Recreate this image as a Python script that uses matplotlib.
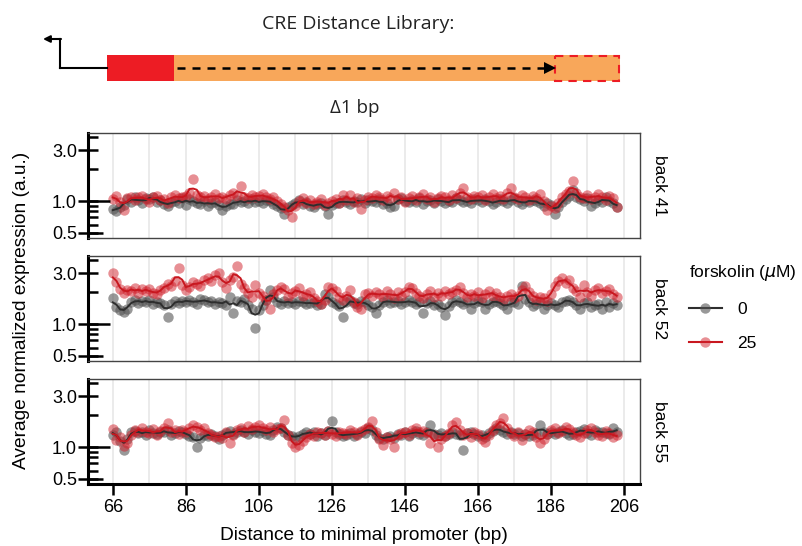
import numpy as np
import pandas as pd
import matplotlib
matplotlib.use("Agg")
import matplotlib.pyplot as plt
import matplotlib.transforms as mtransforms
from matplotlib.patches import Rectangle
from matplotlib.lines import Line2D
from matplotlib.ticker import NullFormatter

plt.rcParams['font.family'] = ['Liberation Sans', 'DejaVu Sans']

# positions along the library (bp)
bp = np.arange(66, 205)

# back 41
g41 = [0.84, 0.80, 0.88, 0.92, 1.05, 0.98, 1.08, 1.02, 0.96, 1.06,
       1.04, 1.10, 0.98, 1.02, 0.94, 0.90, 0.97, 1.00, 0.95, 1.06,
       0.92, 1.04, 0.99, 0.96, 0.93, 1.01, 0.90, 0.95, 0.98, 0.92,
       0.82, 0.90, 0.94, 0.93, 1.02, 0.97, 1.00, 0.95, 1.04, 0.98,
       1.00, 0.96, 1.03, 0.99, 0.94, 0.90, 0.86, 0.75, 0.88, 0.92,
       0.96, 1.02, 0.94, 0.97, 0.90, 0.88, 0.93, 0.96, 0.90, 0.76,
       0.92, 0.96, 0.95, 1.02, 0.98, 0.94, 1.00, 0.97, 1.04, 0.95,
       1.02, 0.99, 0.97, 1.05, 0.93, 0.96, 0.88, 0.90, 1.04, 1.06,
       1.00, 0.97, 1.03, 0.98, 1.06, 0.94, 0.99, 1.02, 0.96, 1.05,
       1.00, 0.95, 1.01, 0.97, 1.06, 1.02, 0.98, 1.00, 0.96, 1.04,
       1.02, 0.97, 1.05, 0.99, 0.93, 0.98, 1.04, 1.00, 0.96, 1.02,
       1.06, 0.98, 0.93, 1.01, 0.97, 1.03, 0.99, 0.95, 0.90, 0.96,
       0.92, 0.76, 0.88, 0.98, 1.05, 1.12, 1.27, 1.10, 1.04, 0.99,
       1.06, 0.90, 0.95, 1.02, 0.97, 1.08, 1.00, 0.95, 0.88]
r41 = [1.04, 1.12, 0.98, 0.82, 1.06, 1.10, 1.02, 1.08, 1.12, 1.04,
       0.98, 1.08, 1.12, 1.02, 1.05, 0.96, 1.10, 1.14, 1.06, 1.08,
       1.12, 1.18, 1.60, 1.15, 1.08, 1.12, 1.05, 1.10, 1.16, 1.06,
       1.10, 1.04, 1.14, 1.20, 1.12, 1.39, 1.10, 1.06, 1.14, 1.08,
       1.12, 1.16, 1.10, 1.04, 1.08, 1.00, 0.94, 0.88, 0.82, 0.70,
       0.90, 1.00, 1.06, 0.96, 1.02, 0.94, 0.98, 1.04, 0.92, 0.96,
       1.00, 1.04, 0.96, 1.14, 1.02, 1.14, 0.98, 1.06, 0.85, 1.02,
       1.10, 1.06, 1.14, 1.08, 1.02, 1.12, 1.06, 1.18, 1.04, 1.10,
       0.98, 1.06, 1.12, 1.02, 1.08, 1.16, 1.04, 1.10, 0.97, 1.06,
       1.12, 1.08, 1.02, 1.14, 1.06, 1.20, 1.32, 1.10, 1.04, 1.12,
       1.08, 1.14, 1.02, 1.10, 1.16, 1.06, 1.12, 1.04, 1.18, 1.32,
       1.10, 1.04, 1.14, 1.08, 1.02, 1.12, 1.06, 1.16, 1.00, 0.83,
       0.90, 0.86, 0.96, 1.10, 1.16, 1.24, 1.54, 1.20, 1.10, 1.06,
       1.14, 1.04, 1.10, 1.16, 1.08, 1.02, 1.12, 1.06, 0.87]

# back 52
g52 = [1.75, 1.45, 1.36, 1.31, 1.40, 1.62, 1.70, 1.58, 1.66, 1.60,
       1.68, 1.55, 1.62, 1.58, 1.50, 1.17, 1.56, 1.64, 1.58, 1.66,
       1.60, 1.70, 1.62, 1.55, 1.72, 1.68, 1.60, 1.64, 1.56, 1.62,
       1.58, 1.52, 1.80, 1.26, 1.66, 1.60, 1.72, 1.50, 1.40, 0.91,
       1.36, 1.52, 1.70, 2.09, 1.78, 1.62, 1.55, 1.66, 1.58, 1.62,
       1.56, 1.64, 1.60, 1.54, 1.58, 1.62, 1.50, 1.56, 1.90, 1.80,
       1.60, 1.55, 1.48, 1.17, 1.62, 1.70, 1.58, 1.55, 1.64, 1.60,
       1.50, 1.45, 1.26, 1.50, 1.62, 1.70, 1.58, 1.60, 1.66, 1.55,
       1.60, 1.68, 1.62, 1.54, 1.60, 1.26, 1.58, 1.64, 1.50, 1.56,
       1.44, 1.22, 1.48, 1.62, 1.70, 1.60, 1.56, 1.62, 1.40, 1.58,
       1.64, 1.60, 1.38, 1.56, 1.62, 1.66, 1.58, 1.52, 1.40, 1.60,
       1.62, 1.55, 2.30, 1.74, 1.60, 1.48, 1.56, 1.62, 1.40, 1.52,
       1.58, 1.50, 1.44, 1.62, 1.66, 1.70, 1.60, 1.52, 1.40, 1.58,
       1.62, 1.44, 1.50, 1.56, 1.40, 1.60, 1.46, 1.58, 1.50]
r52 = [3.00, 2.50, 2.15, 1.95, 2.10, 2.05, 2.20, 1.98, 2.12, 2.04,
       2.15, 1.95, 1.90, 2.10, 2.20, 2.40, 2.30, 2.55, 3.40, 2.35,
       2.10, 2.25, 2.50, 2.40, 2.30, 2.60, 2.70, 2.55, 2.90, 3.00,
       2.50, 2.20, 2.60, 2.75, 3.50, 2.40, 2.20, 1.95, 1.80, 2.33,
       1.95, 1.85, 1.70, 1.40, 1.90, 2.10, 2.25, 2.15, 1.80, 1.95,
       2.05, 2.20, 1.85, 1.90, 2.00, 1.75, 1.65, 1.55, 1.70, 2.25,
       2.20, 2.05, 1.80, 1.70, 1.85, 2.10, 1.60, 1.45, 1.40, 1.90,
       1.95, 1.85, 2.00, 1.90, 1.80, 2.05, 1.90, 1.75, 2.00, 1.85,
       2.00, 2.25, 2.20, 1.95, 1.85, 1.75, 1.90, 2.05, 1.80, 1.95,
       1.85, 2.05, 1.90, 2.00, 2.10, 2.25, 1.95, 1.80, 1.90, 1.85,
       2.00, 1.75, 1.90, 2.05, 1.85, 1.95, 1.80, 1.70, 1.85, 1.90,
       1.75, 1.85, 2.10, 2.30, 2.00, 1.85, 1.70, 1.80, 1.75, 1.65,
       1.90, 2.30, 2.55, 2.70, 2.45, 2.60, 2.20, 2.05, 1.80, 2.35,
       2.00, 1.85, 2.10, 2.20, 1.95, 2.05, 2.15, 1.90, 1.80]

# back 55
g55 = [1.30, 1.40, 1.15, 0.94, 1.20, 1.38, 1.42, 1.35, 1.40, 1.30,
       1.45, 1.36, 1.32, 1.40, 1.38, 1.44, 1.30, 1.35, 1.42, 1.38,
       1.34, 1.28, 1.25, 1.00, 1.22, 1.30, 1.26, 1.34, 1.28, 1.20,
       1.30, 1.36, 1.42, 1.34, 1.40, 1.45, 1.38, 1.32, 1.44, 1.40,
       1.36, 1.42, 1.34, 1.30, 1.46, 1.55, 1.50, 1.38, 1.30, 1.26,
       1.22, 1.28, 1.32, 1.38, 1.34, 1.40, 1.28, 1.36, 1.30, 1.42,
       1.75, 1.38, 1.32, 1.26, 1.30, 1.36, 1.28, 1.34, 1.40, 1.36,
       1.52, 1.45, 1.30, 1.22, 1.18, 1.24, 1.28, 1.22, 1.34, 1.30,
       1.38, 1.28, 1.36, 1.42, 1.34, 1.30, 1.38, 1.62, 1.34, 1.30,
       1.36, 1.28, 1.32, 1.38, 1.34, 1.30, 0.94, 1.36, 1.40, 1.32,
       1.26, 1.30, 1.24, 1.36, 1.42, 1.50, 1.46, 1.40, 1.34, 1.38,
       1.32, 1.36, 1.28, 1.34, 1.26, 1.30, 1.36, 1.62, 1.40, 1.34,
       1.38, 1.32, 1.40, 1.44, 1.36, 1.30, 1.34, 1.38, 1.42, 1.48,
       1.36, 1.30, 1.44, 1.38, 1.40, 1.36, 1.32, 1.50, 1.38]
r55 = [1.48, 1.17, 1.25, 1.03, 1.10, 1.30, 1.45, 1.38, 1.52, 1.40,
       1.36, 1.48, 1.30, 1.42, 1.50, 1.68, 1.38, 1.44, 1.32, 1.46,
       1.40, 1.50, 1.62, 1.55, 1.44, 1.52, 1.36, 1.30, 1.24, 1.28,
       1.22, 1.38, 1.08, 1.30, 1.46, 1.52, 1.40, 1.58, 1.48, 1.55,
       1.62, 1.50, 1.44, 1.56, 1.40, 1.48, 1.52, 1.81, 1.30, 1.10,
       1.00, 1.05, 1.15, 1.25, 1.34, 1.28, 1.40, 1.36, 1.30, 1.42,
       1.34, 1.28, 1.40, 1.36, 1.32, 1.44, 1.38, 1.30, 1.42, 1.48,
       1.55, 1.75, 1.40, 1.20, 1.05, 1.25, 1.18, 1.00, 1.30, 1.36,
       1.40, 1.30, 1.44, 1.50, 1.38, 1.42, 1.36, 1.10, 1.30, 1.00,
       1.20, 1.28, 1.36, 1.60, 1.71, 1.44, 1.30, 1.36, 1.24, 1.40,
       1.34, 1.20, 1.12, 1.30, 1.45, 1.60, 1.70, 1.88, 1.50, 1.36,
       1.28, 1.40, 1.16, 1.32, 1.46, 1.38, 1.25, 1.10, 1.20, 1.34,
       1.44, 1.50, 1.36, 1.42, 1.55, 1.48, 1.38, 1.30, 1.24, 1.36,
       1.46, 1.50, 1.38, 1.30, 1.26, 1.42, 1.36, 1.24, 1.30]

panel_names = ['back 41', 'back 52', 'back 55']
series_0 = [g41, g52, g55]
series_25 = [r41, r52, r55]
legend_labels = ['0', '25']

W, H = 803, 546
GRAY_PT, GRAY_LN = '#555555', '#2e2e2e'
RED_PT, RED_LN = '#d1202b', '#c8171f'

fig = plt.figure(figsize=(W / 100, H / 100), dpi=100)


def px_axes(left, top, w, h):
    return fig.add_axes([left / W, 1 - (top + h) / H, w / W, h / H])


# schematic on top, in pixel coordinates
axd = fig.add_axes([0, 0, 1, 1])
axd.set_xlim(0, W)
axd.set_ylim(H, 0)
axd.axis('off')
axd.text(358, 24, 'CRE Distance Library:', ha='center', va='center',
         fontsize=14, family=['Open Sans', 'DejaVu Sans'], color='#222222')
axd.add_patch(Rectangle((174, 55), 446, 26, color='#f8a75a', lw=0))
axd.add_patch(Rectangle((107, 55), 67, 26, color='#ed1c24', lw=0))
axd.add_patch(Rectangle((555.5, 55.5), 64, 25, fill=False, ec='#ed1c24',
                        lw=1.5, ls=(0, (4, 3))))
axd.plot([60, 107], [68, 68], color='k', lw=1.5)
axd.plot([60, 60], [68, 39], color='k', lw=1.5)
axd.annotate('', xy=(43, 39), xytext=(61, 39),
             arrowprops=dict(arrowstyle='-|>', color='k', lw=1.5,
                             mutation_scale=10, shrinkA=0, shrinkB=0))
axd.plot([177, 546], [68, 68], color='k', lw=1.8, ls=(0, (3.2, 2.8)))
axd.plot(550, 68, marker='>', ms=8, color='k', mew=0)
axd.text(355, 108, u'\u03941 bp', ha='center', va='center', fontsize=13.5,
         family=['Open Sans', 'DejaVu Sans'], color='#222222')

tops = [133, 256, 379]
for k, name in enumerate(panel_names):
    ax = px_axes(88, tops[k], 552, 105)
    ax.patch.set_alpha(0)
    g = series_0[k]
    r = series_25[k]
    ax.set_yscale('log')
    ax.scatter(bp, g, s=56, color=GRAY_PT, alpha=0.6, lw=0, zorder=2)
    ax.scatter(bp, r, s=56, color=RED_PT, alpha=0.5, lw=0, zorder=3)
    ax.plot(bp, pd.Series(g).rolling(3, center=True, min_periods=1).mean(),
            color=GRAY_LN, lw=1.4, zorder=4)
    ax.plot(bp, pd.Series(r).rolling(3, center=True, min_periods=1).mean(),
            color=RED_LN, lw=1.4, zorder=5)

    ax.set_xlim(59.2, 210.4)
    ax.set_ylim(0.448, 4.38)
    ax.set_xticks(np.arange(66, 207, 20))
    ax.set_xticks(np.arange(76, 207, 20), minor=True)
    ax.grid(axis='x', which='both', color='#e8e8e8', lw=1.2, zorder=0)
    ax.set_axisbelow(True)

    ax.set_yticks([0.5, 1, 3])
    ax.set_yticklabels(['0.5', '1.0', '3.0'])
    ax.set_yticks([0.6, 0.7, 0.8, 0.9, 2, 4], minor=True)
    ax.yaxis.set_minor_formatter(NullFormatter())
    ax.tick_params(axis='y', which='major', direction='inout', length=14,
                   width=1.8, labelsize=13, pad=1)
    ax.tick_params(axis='y', which='minor', direction='in', length=7, width=1.8)
    trans = mtransforms.blended_transform_factory(ax.transAxes, ax.transData)
    ax.plot([0, 22 / 552], [1, 1], transform=trans, color='k', lw=1.8,
            clip_on=False, solid_capstyle='butt', zorder=6)
    ax.plot([0, 15 / 552], [0.5, 0.5], transform=trans, color='k', lw=1.8,
            clip_on=False, solid_capstyle='butt', zorder=6)

    ax.spines['left'].set_linewidth(2.2)
    ax.spines['left'].set_color('k')
    for s in ['top', 'right']:
        ax.spines[s].set_linewidth(1)
        ax.spines[s].set_color('#444444')
    if k == 2:
        ax.spines['bottom'].set_linewidth(2.2)
        ax.spines['bottom'].set_color('k')
        ax.tick_params(axis='x', which='major', direction='out', length=8,
                       width=1.8, labelsize=13, pad=3)
        ax.tick_params(axis='x', which='minor', length=0)
    else:
        ax.spines['bottom'].set_linewidth(1)
        ax.spines['bottom'].set_color('#444444')
        ax.tick_params(axis='x', which='both', length=0, labelbottom=False)

    ax.text(1.022, 0.5, name, rotation=-90, transform=ax.transAxes,
            ha='left', va='center', fontsize=12.5)

fig.text(22 / W, 1 - 310 / H, 'Average normalized expression (a.u.)',
         rotation=90, ha='center', va='center', fontsize=13.8)
fig.text(364 / W, 1 - 535 / H, 'Distance to minimal promoter (bp)',
         ha='center', va='center', fontsize=13.8)

handles = [
    Line2D([0], [0], color=GRAY_LN, lw=1.5, marker='o', ms=7.5,
           mfc=(0.33, 0.33, 0.33, 0.6), mec='none'),
    Line2D([0], [0], color=RED_LN, lw=1.5, marker='o', ms=7.5,
           mfc=(0.82, 0.13, 0.17, 0.5), mec='none'),
]
leg = fig.legend(handles, legend_labels, loc='upper left',
                 bbox_to_anchor=(680 / W, 1 - 254 / H), frameon=False,
                 title=r'forskolin ($\mu$M)', fontsize=12.5, title_fontsize=12.5,
                 labelspacing=1.1, handlelength=1.9, handletextpad=0.9,
                 borderpad=0)
leg._legend_box.align = 'left'

fig.savefig('out.png', dpi=100)
